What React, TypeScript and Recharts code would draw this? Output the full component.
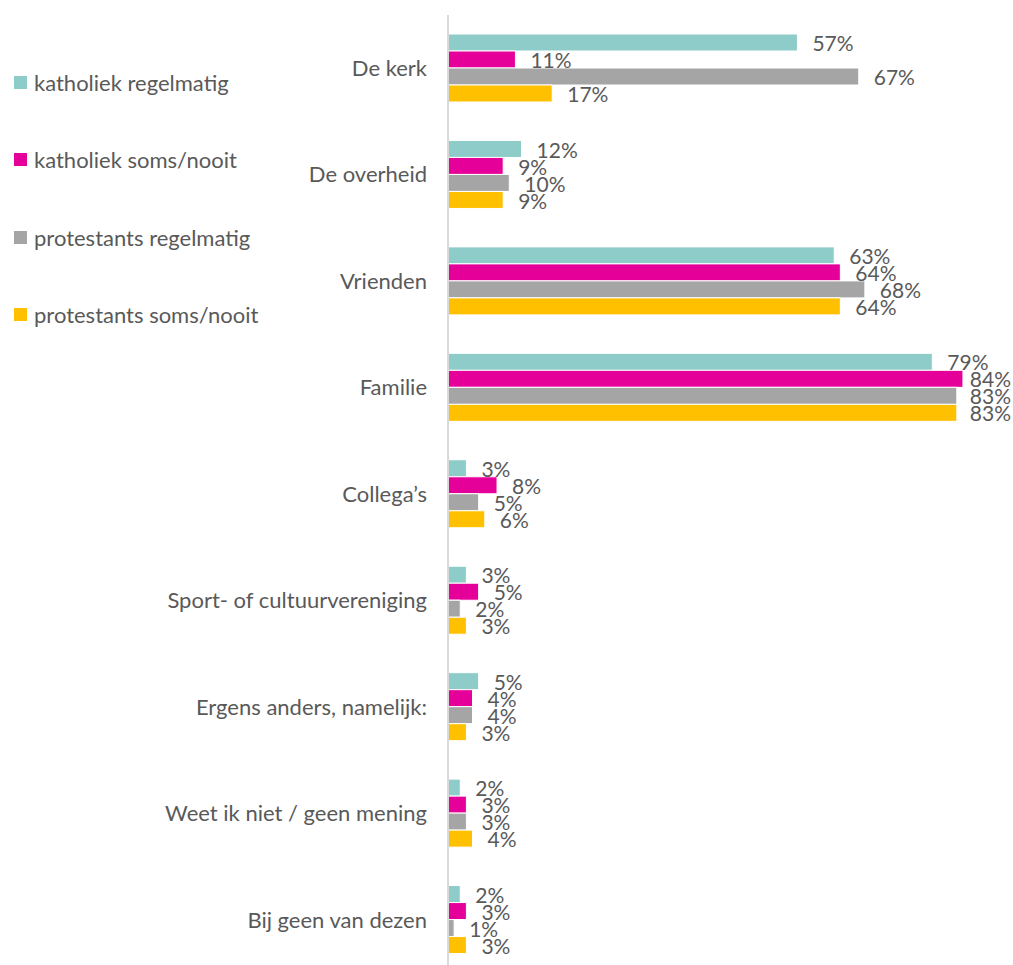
import { BarChart, Bar, XAxis, YAxis, LabelList, Legend } from 'recharts';

const categories = [
  'De kerk',
  'De overheid',
  'Vrienden',
  'Familie',
  'Collega’s',
  'Sport- of cultuurvereniging',
  'Ergens anders, namelijk:',
  'Weet ik niet / geen mening',
  'Bij geen van dezen',
];

const katholiekRegelmatig = [57, 12, 63, 79, 3, 3, 5, 2, 2];
const katholiekSoms = [11, 9, 64, 84, 8, 5, 4, 3, 3];
const protestantsRegelmatig = [67, 10, 68, 83, 5, 2, 4, 3, 1];
const protestantsSoms = [17, 9, 64, 83, 6, 3, 3, 4, 3];

const series = [
  { key: 'kr', name: 'katholiek regelmatig', color: '#8DCCC9', values: katholiekRegelmatig },
  { key: 'ks', name: 'katholiek soms/nooit', color: '#E6009A', values: katholiekSoms },
  { key: 'pr', name: 'protestants regelmatig', color: '#A5A5A5', values: protestantsRegelmatig },
  { key: 'ps', name: 'protestants soms/nooit', color: '#FFC000', values: protestantsSoms },
];

const FONT = 'Lato, "Open Sans", sans-serif';
const TEXT = '#595959';
const RIGHT_EDGE = 1011;

const chartData = categories.map((name, i) => {
  const row: Record<string, string | number> = { name };
  series.forEach((s) => {
    row[s.key] = s.values[i];
  });
  return row;
});

// labels that would run off the chart are pulled back inside, like Excel does
function ValueLabel(props: any) {
  const { x, y, width, height, value } = props;
  const start = Number(x) + Number(width) + 15;
  const text = `${value}%`;
  const estWidth = text.length * 13.5;
  const clamped = start + estWidth > RIGHT_EDGE;
  return (
    <text
      x={clamped ? RIGHT_EDGE : start}
      y={Number(y) + Number(height) / 2 + 1}
      dy="0.36em"
      textAnchor={clamped ? 'end' : 'start'}
      fill={TEXT}
      fontSize={21}
      fontFamily={FONT}
    >
      {text}
    </text>
  );
}

function LegendBox() {
  return (
    <div style={{ fontFamily: FONT, fontSize: 22, color: TEXT }}>
      {series.map((s) => (
        <div
          key={s.key}
          style={{ display: 'flex', alignItems: 'center', height: 24, marginBottom: 53.5, whiteSpace: 'nowrap' }}
        >
          <span style={{ width: 13, height: 13, background: s.color, display: 'inline-block', marginRight: 7 }} />
          <span>{s.name}</span>
        </div>
      ))}
    </div>
  );
}

export default function App() {
  return (
    <div style={{ position: 'absolute', left: 0, top: 0, width: 1013, height: 965, overflow: 'hidden', background: '#fff' }}>
      <BarChart
        width={1013}
        height={973}
        data={chartData}
        layout="vertical"
        margin={{ top: 15, right: 1, left: 0, bottom: 0 }}
        barCategoryGap={19}
        barGap={0}
      >
        <XAxis type="number" domain={[0, 92]} hide />
        <YAxis
          type="category"
          dataKey="name"
          width={448}
          tickSize={0}
          tickMargin={21}
          axisLine={{ stroke: '#D9D9D9', strokeWidth: 2 }}
          tick={{ fill: TEXT, fontSize: 22, fontFamily: FONT }}
          interval={0}
        />
        <Legend
          layout="vertical"
          align="center"
          verticalAlign="middle"
          wrapperStyle={{ left: 14, top: 70, width: 320 }}
          content={() => <LegendBox />}
        />
        {series.map((s) => (
          <Bar
            key={s.key}
            dataKey={s.key}
            name={s.name}
            fill={s.color}
            stroke="#fff"
            strokeWidth={1}
            isAnimationActive={false}
          >
            <LabelList dataKey={s.key} content={<ValueLabel />} />
          </Bar>
        ))}
      </BarChart>
    </div>
  );
}
